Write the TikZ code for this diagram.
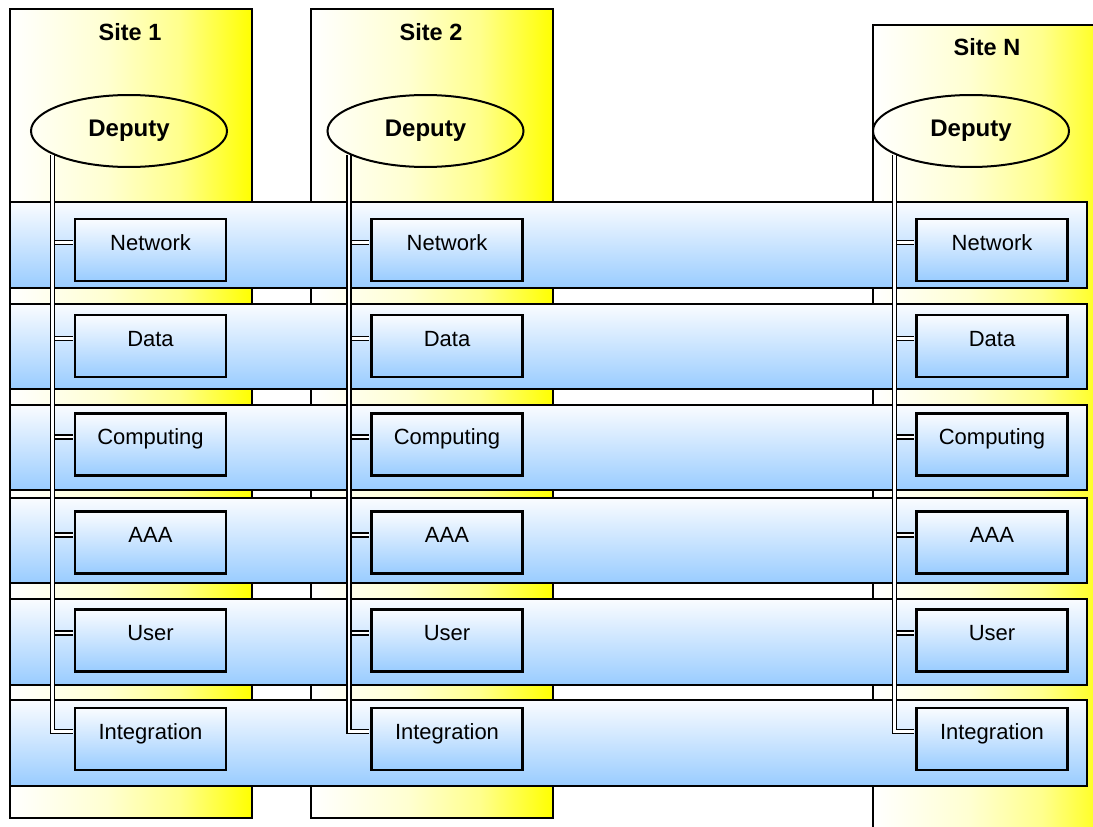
\documentclass[tikz,border=0pt]{standalone}
\usepackage{fontspec}
\setmainfont{Liberation Sans}
\usetikzlibrary{shapes.geometric}
\pgfdeclarehorizontalshading{yshade}{100bp}{color(0bp)=(white); color(25bp)=(white); color(45bp)=(yellow!18); color(60bp)=(yellow!45); color(75bp)=(yellow); color(100bp)=(yellow)}
\definecolor{bandtop}{RGB}{250,252,255}
\definecolor{bandbot}{RGB}{153,204,255}
\begin{document}
\begin{tikzpicture}[x=1pt,y=-1pt,
  col/.style={shade, shading=yshade, draw=black, line width=1.3pt},
  band/.style={draw=black, line width=1.4pt, top color=bandtop, bottom color=bandbot},
  dep/.style={ellipse, draw=black, line width=2pt, minimum width=196pt, minimum height=72pt, inner sep=0pt, font=\bfseries\fontsize{24}{28}\selectfont},
  site/.style={font=\bfseries\fontsize{23.5}{28}\selectfont, inner sep=0pt},
  svc/.style={rectangle, draw=black, line width=2.5pt, top color=bandtop, bottom color=bandbot, minimum width=151pt, text height=31pt, text depth=31pt, inner sep=0pt, font=\fontsize{22}{26}\selectfont},
  dbl/.style={draw=black, line width=1.6pt, double=white, double distance=2.3pt}
]
\useasboundingbox (0,0) rectangle (1093,827);
\clip (0,0) rectangle (1093,827);
% site columns
\path[col] (10,9) rectangle (252,818);
\path[col] (311,9) rectangle (553,818);
\path[shade, shading=yshade] (873,25) rectangle (1115,840);
\draw[line width=1.3pt] (873,840) |- (1115,25);
% service bands
\path[band] (10,202) rectangle (1087,288);
\path[band] (10,304) rectangle (1087,389);
\path[band] (10,405) rectangle (1087,490);
\path[band] (10,498) rectangle (1087,583);
\path[band] (10,599) rectangle (1087,685);
\path[band] (10,700) rectangle (1087,786);
% site titles
\node[site] (s1) at (130,32) {Site 1};
\node[site] (s2) at (431,32) {Site 2};
\node[site] (s3) at (987,47.5) {Site N};
% deputies
\node[dep] (dep1) at (129,131) {Deputy};
\node[dep] (dep2) at (425.5,131) {Deputy};
\node[dep] (dep3) at (971,131) {Deputy};
% service boxes
\foreach \cx/\c in {150.5/1,447/2,992/3}{
  \foreach \cy/\r/\t in {250/net/Network,346/dat/Data,444.5/cmp/Computing,542.5/aaa/AAA,640.5/usr/User,739/int/Integration}{
    \node[svc] (\r\c) at (\cx,\cy) {\t};
  }
}
% connectors
\foreach \c in {1,2,3}{
  \coordinate (t\c) at (dep\c.197);
  \foreach \r in {net,dat,cmp,aaa,usr}{
    \coordinate (w\r\c) at ([yshift=7.5pt]\r\c.west);
    \draw[dbl, shorten >=1.2pt] (t\c |- w\r\c) -- (w\r\c);
  }
  \coordinate (wint\c) at ([yshift=7.5pt]int\c.west);
  \draw[dbl, shorten <=1pt, shorten >=1.2pt] (t\c) |- (wint\c);
}
\end{tikzpicture}
\end{document}
